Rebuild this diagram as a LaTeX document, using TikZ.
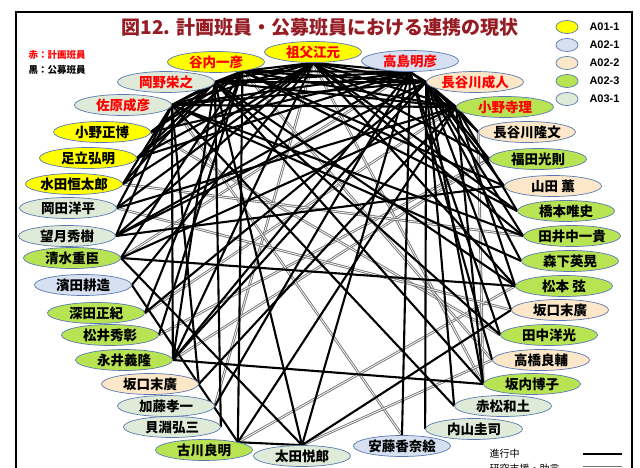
\documentclass[tikz,border=0pt]{standalone}
\usepackage{fontspec}
\setmainfont{Noto Sans CJK JP}
\newfontfamily\lat{Liberation Sans}
\usetikzlibrary{shapes.geometric}
\definecolor{cyel}{HTML}{FFFF00}
\definecolor{cblu}{HTML}{D6E0F1}
\definecolor{cpch}{HTML}{FCE8C8}
\definecolor{cgrn}{HTML}{B8E454}
\definecolor{cgry}{HTML}{DFEBD8}
\definecolor{cbord}{HTML}{5B79B0}
\definecolor{ctitle}{RGB}{150,28,36}
\definecolor{cred}{HTML}{FF0000}
\pgfdeclarelayer{bg}
\pgfsetlayers{bg,main}
\tikzset{
  nm/.style={ellipse, draw=cbord, line width=0.7pt, minimum width=97pt, minimum height=21pt, inner sep=0pt, font=\bfseries\fontsize{13.5}{13.5}\selectfont},
  rd/.style={text=cred},
  lg/.style={ellipse, draw=cbord, line width=0.7pt, minimum width=22pt, minimum height=13pt, inner sep=0pt},
  blk/.style={line width=2.1pt, black},
  gry/.style={draw=black!55, line width=0.9pt, double=white, double distance=0.8pt},
}
\begin{document}
\begin{tikzpicture}[x=1pt,y=-1pt]
\clip (0,0) rectangle (640,468);
\draw[line width=1.2pt] (16,470) -- (16,12) -- (632,12) -- (632,470);
% title
\node[text=ctitle, font=\bfseries\fontsize{19}{19}\selectfont] (title) at (320,27) {図12. 計画班員・公募班員における連携の現状};
\node[anchor=west, text=cred, font=\bfseries\fontsize{9.5}{9.5}\selectfont] (n1) at (25,55) {赤：計画班員};
\node[anchor=west, font=\bfseries\fontsize{9.5}{9.5}\selectfont] (n2) at (25,70) {黒：公募班員};
% legend
\node[lg, fill=cyel] (l1) at (567,27) {};
\node[lg, fill=cblu] (l2) at (567,45) {};
\node[lg, fill=cpch] (l3) at (567,63) {};
\node[lg, fill=cgrn] (l4) at (567,81) {};
\node[lg, fill=cgry] (l5) at (567,99) {};
\foreach \i/\t/\y in {1/A01-1/27,2/A02-1/45,3/A02-2/63,4/A02-3/81,5/A03-1/99}
  \node[anchor=west, font=\lat\bfseries\fontsize{11}{11}\selectfont] (lt\i) at (586,\y) {\t};
% nodes
\node[nm, fill=cyel, rd] (yanai) at (216,62) {谷内一彦};
\node[nm, fill=cyel, rd] (sobue) at (313,52) {祖父江元};
\node[nm, fill=cblu, rd] (takashima) at (410,61) {高島明彦};
\node[nm, fill=cpch, rd] (hasegawaN) at (475,82) {長谷川成人};
\node[nm, fill=cgrn, rd] (onodera) at (505,107) {小野寺理};
\node[nm, fill=cpch] (hasegawaT) at (527,132) {長谷川隆文};
\node[nm, fill=cgrn] (fukuda) at (538,159) {福田光則};
\node[nm, fill=cpch] (yamada) at (553,186) {山田 薫};
\node[nm, fill=cgrn] (hashimoto) at (566,211) {橋本唯史};
\node[nm, fill=cgrn] (tainaka) at (572,236) {田井中一貴};
\node[nm, fill=cgrn] (morishita) at (570,261) {森下英晃};
\node[nm, fill=cgrn] (matsumoto) at (564,286) {松本 弦};
\node[nm, fill=cpch] (sakaguchiR) at (560,310) {坂口末廣};
\node[nm, fill=cgrn] (tanaka) at (549,335) {田中洋光};
\node[nm, fill=cpch] (takahashi) at (541,360) {高橋良輔};
\node[nm, fill=cgrn] (sakauchi) at (532,384) {坂内博子};
\node[nm, fill=cgry] (akamatsu) at (503,406) {赤松和土};
\node[nm, fill=cgry] (uchiyama) at (474,429) {内山圭司};
\node[nm, fill=cblu] (ando) at (402,446) {安藤香奈絵};
\node[nm, fill=cgry] (ota) at (302,456) {太田悦郎};
\node[nm, fill=cgrn] (furukawa) at (204,450) {古川良明};
\node[nm, fill=cgry] (kaibuchi) at (172,427) {貝淵弘三};
\node[nm, fill=cgry] (kato) at (166,406) {加藤孝一};
\node[nm, fill=cpch] (sakaguchiL) at (150,384) {坂口末廣};
\node[nm, fill=cgrn] (nagai) at (124,360) {永井義隆};
\node[nm, fill=cgrn] (matsui) at (110,335) {松井秀彰};
\node[nm, fill=cgrn] (fukata) at (96,313) {深田正紀};
\node[nm, fill=cblu] (hamada) at (83,285) {濱田耕造};
\node[nm, fill=cgrn] (shimizu) at (72,258) {清水重臣};
\node[nm, fill=cgry] (mochizuki) at (67,236) {望月秀樹};
\node[nm, fill=cgry] (okada) at (68,208) {岡田洋平};
\node[nm, fill=cyel] (mizuta) at (74,184) {水田恒太郎};
\node[nm, fill=cyel] (adachi) at (88,158) {足立弘明};
\node[nm, fill=cyel] (onoM) at (102,132) {小野正博};
\node[nm, fill=cgry, rd] (sahara) at (123,105) {佐原成彦};
\node[nm, fill=cgry, rd] (okano) at (166,82) {岡野栄之};
% hubs
\coordinate (YA) at (yanai.-19);
\coordinate (SO) at (sobue.south);
\coordinate (TA) at (takashima.south);
\coordinate (HN) at (hasegawaN.west);
\coordinate (ON) at (onodera.west);
\coordinate (HT) at (hasegawaT.west);
\coordinate (FU) at (fukuda.west);
\coordinate (YM) at (yamada.west);
\coordinate (HS) at (hashimoto.west);
\coordinate (TN) at (tainaka.west);
\coordinate (MR) at (morishita.west);
\coordinate (MT) at (matsumoto.west);
\coordinate (SR) at (sakaguchiR.west);
\coordinate (TK) at (tanaka.west);
\coordinate (TH) at (takahashi.west);
\coordinate (SU) at (sakauchi.west);
\coordinate (AK) at (akamatsu.west);
\coordinate (UC) at (uchiyama.west);
\coordinate (AN) at (ando.north);
\coordinate (OT) at (ota.north);
\coordinate (FR) at (furukawa.13);
\coordinate (KB) at (kaibuchi.east);
\coordinate (KT) at (kato.east);
\coordinate (SL) at (sakaguchiL.east);
\coordinate (NG) at (nagai.east);
\coordinate (MI) at (matsui.east);
\coordinate (FK) at (fukata.east);
\coordinate (HM) at (hamada.east);
\coordinate (SH) at (shimizu.east);
\coordinate (MC) at (mochizuki.east);
\coordinate (OK) at (okada.east);
\coordinate (MZ) at (mizuta.east);
\coordinate (AD) at (adachi.east);
\coordinate (OM) at (onoM.east);
\coordinate (SA) at (sahara.east);
\coordinate (OO) at (okano.east);
\begin{pgfonlayer}{bg}
\foreach \a/\b in {FR/MT, SO/KT, FK/ON, SH/TA, MI/FU, NG/FU, OM/TK, HT/SU, SO/SU, YA/TH, SA/AN, OT/TH, OK/SR, MZ/TN}
  \draw[gry] (\a) -- (\b);
\foreach \a/\b in {YA/SO, YA/TA, YA/HN, YA/ON, YA/SA, YA/OO, SO/TA, SO/HN, SO/ON, SO/SA, SO/OO, TA/HN, TA/ON, TA/SA, TA/OO, HN/ON, HN/SA, HN/OO, ON/SA, ON/OO, SA/OO,
  OO/KB, OO/OM, OO/AD, OO/NG, OO/MT, OO/SU, OO/OT, OO/TK, OO/MZ,
  SA/MZ, SA/MC, SA/NG, SA/SL, SA/MR, SA/TN, SA/AK, SA/OK,
  YA/OM, YA/AD, YA/SH, YA/FK, YA/MI, YA/YM, YA/FR, YA/HS,
  SO/MZ, SO/OK, SO/MC, SO/HM, SO/NG, SO/FU, SO/HS, SO/MT, SO/TN, SO/AD,
  TA/AN, TA/OM, TA/AD, TA/NG, TA/KT, TA/TK, TA/TH, TA/OT, TA/MC,
  HN/UC, HN/HT, HN/FU, HN/YM, HN/TN, HN/SR, HN/SU, HN/AK, HN/MC, HN/FK, HN/NG, HN/MR,
  ON/HT, ON/HS, ON/MT, ON/SU, ON/SL, ON/FR, ON/OK, ON/SH,
  SH/MT, FR/OT, HM/FR, SH/OT, OT/SR, NG/SU, MC/YM}
  \draw[blk] (\a) -- (\b);
\end{pgfonlayer}
% bottom legend
\node[anchor=west, font=\fontsize{10}{10}\selectfont] (k1) at (486,454) {進行中};
\node[anchor=west, font=\fontsize{10}{10}\selectfont] (k2) at (486,469) {研究支援・助言};
\coordinate (k1a) at (583,454); \coordinate (k1b) at (622,454);
\coordinate (k2a) at (583,467); \coordinate (k2b) at (622,467);
\draw[blk] (k1a) -- (k1b);
\draw[gry] (k2a) -- (k2b);
\end{tikzpicture}
\end{document}
